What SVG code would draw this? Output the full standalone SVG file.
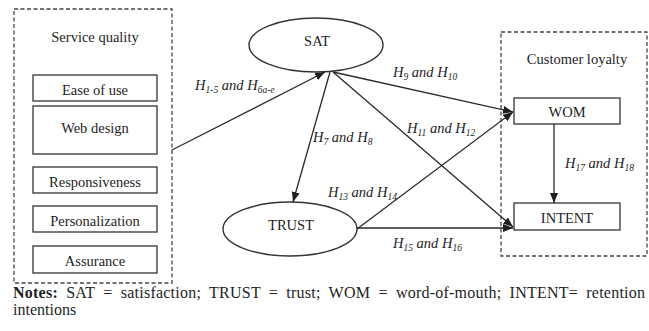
<svg xmlns="http://www.w3.org/2000/svg" width="649" height="331" viewBox="0 0 649 331" font-family="'Liberation Serif', 'Times New Roman', serif">
  <defs>
    <style>
      text { font-family: "Liberation Serif", "Times New Roman", serif; fill: #1e1e1e; }
      .t { font-size: 14.5px; text-anchor: middle; }
      .lbl { font-size: 14.5px; font-style: italic; }
      .sub { font-size: 9.5px; }
      .box { fill: #fff; stroke: #333; stroke-width: 1.3; }
      .grp { fill: none; stroke: #444; stroke-width: 1.3; stroke-dasharray: 4 2.5; }
      .ell { fill: #fff; stroke: #333; stroke-width: 1.4; }
      .edge { fill: none; stroke: #2a2a2a; stroke-width: 1.3; marker-end: url(#arrow); }
      .note { font-size: 16px; }
    </style>
    <marker id="arrow" markerUnits="userSpaceOnUse" markerWidth="10" markerHeight="8" refX="10" refY="4" orient="auto">
      <path d="M0,0 L10,4 L0,8 z" fill="#1e1e1e"/>
    </marker>
  </defs>

  <!-- Service quality group -->
  <g id="service-quality">
    <rect class="grp" x="14" y="9" width="158" height="274"/>
    <text class="t" x="95" y="42">Service quality</text>
  </g>
  <g id="ease-of-use">
    <rect class="box" x="33" y="75" width="124" height="26"/>
    <text class="t" x="95" y="95">Ease of use</text>
  </g>
  <g id="web-design">
    <rect class="box" x="33" y="106" width="124" height="48"/>
    <text class="t" x="95" y="133">Web design</text>
  </g>
  <g id="responsiveness">
    <rect class="box" x="33" y="167" width="124" height="26"/>
    <text class="t" x="95" y="187">Responsiveness</text>
  </g>
  <g id="personalization">
    <rect class="box" x="33" y="206" width="124" height="26"/>
    <text class="t" x="95" y="226">Personalization</text>
  </g>
  <g id="assurance">
    <rect class="box" x="33" y="246" width="124" height="27"/>
    <text class="t" x="95" y="266">Assurance</text>
  </g>

  <!-- Latent constructs -->
  <g id="sat">
    <ellipse class="ell" cx="316" cy="45" rx="67" ry="27"/>
    <text class="t" x="317" y="46">SAT</text>
  </g>
  <g id="trust">
    <ellipse class="ell" cx="290" cy="229" rx="67" ry="27"/>
    <text class="t" x="291" y="230">TRUST</text>
  </g>

  <!-- Customer loyalty group -->
  <g id="customer-loyalty">
    <rect class="grp" x="501" y="32" width="146" height="224"/>
    <text class="t" x="577" y="64">Customer loyalty</text>
  </g>
  <g id="wom">
    <rect class="box" x="514" y="98" width="106" height="26"/>
    <text class="t" x="567" y="117">WOM</text>
  </g>
  <g id="intent">
    <rect class="box" x="514" y="203" width="106" height="27"/>
    <text class="t" x="567" y="223">INTENT</text>
  </g>

  <!-- Hypothesised paths -->
  <g id="connectors">
    <line class="edge" x1="172" y1="150" x2="325" y2="72"/>
    <line class="edge" x1="330" y1="72" x2="293" y2="202"/>
    <line class="edge" x1="333" y1="72" x2="513" y2="112"/>
    <line class="edge" x1="333" y1="72" x2="513" y2="227"/>
    <line class="edge" x1="357" y1="229" x2="513" y2="112"/>
    <line class="edge" x1="357" y1="228" x2="513" y2="228"/>
    <line class="edge" x1="554" y1="124" x2="554" y2="203"/>
  </g>

  <!-- Path labels -->
  <g id="labels">
    <text class="lbl" x="195" y="90">H<tspan class="sub" dy="2.5">1-5</tspan><tspan dy="-2.5"> and H</tspan><tspan class="sub" dy="2.5">6a-e</tspan></text>
    <text class="lbl" x="393" y="77">H<tspan class="sub" dy="2.5">9</tspan><tspan dy="-2.5"> and H</tspan><tspan class="sub" dy="2.5">10</tspan></text>
    <text class="lbl" x="407" y="133">H<tspan class="sub" dy="2.5">11</tspan><tspan dy="-2.5"> and H</tspan><tspan class="sub" dy="2.5">12</tspan></text>
    <text class="lbl" x="313" y="142">H<tspan class="sub" dy="2.5">7</tspan><tspan dy="-2.5"> and H</tspan><tspan class="sub" dy="2.5">8</tspan></text>
    <text class="lbl" x="328" y="197">H<tspan class="sub" dy="2.5">13</tspan><tspan dy="-2.5"> and H</tspan><tspan class="sub" dy="2.5">14</tspan></text>
    <text class="lbl" x="393" y="248">H<tspan class="sub" dy="2.5">15</tspan><tspan dy="-2.5"> and H</tspan><tspan class="sub" dy="2.5">16</tspan></text>
    <text class="lbl" x="565" y="168">H<tspan class="sub" dy="2.5">17</tspan><tspan dy="-2.5"> and H</tspan><tspan class="sub" dy="2.5">18</tspan></text>
  </g>

  <!-- Notes (justified first line) -->
  <text class="note" x="13" y="298" word-spacing="4" textLength="632" lengthAdjust="spacing"><tspan font-weight="bold">Notes:</tspan> SAT = satisfaction; TRUST = trust; WOM = word-of-mouth; INTENT= retention</text>
  <text class="note" x="13" y="315">intentions</text>
</svg>
